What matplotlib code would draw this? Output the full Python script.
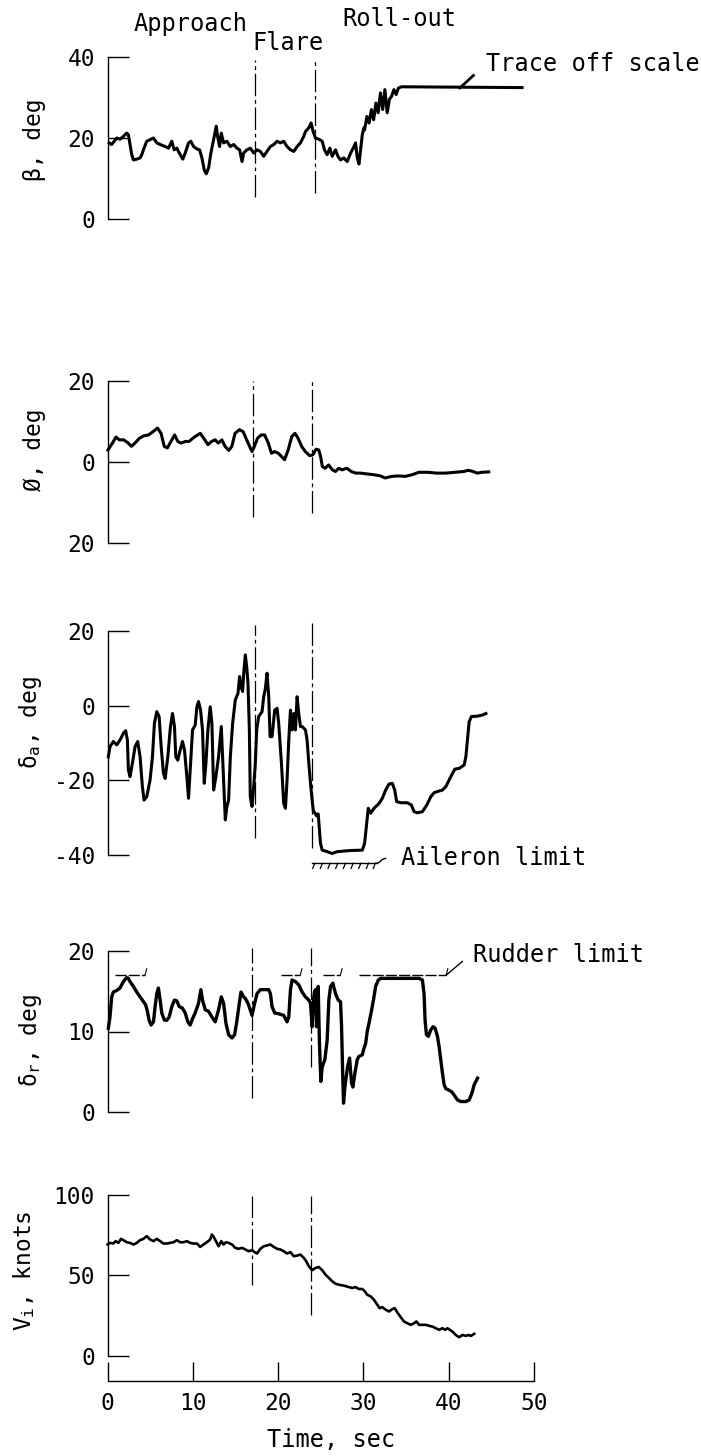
import matplotlib.pyplot as plt

plt.rcParams['font.family'] = 'DejaVu Sans Mono'
plt.rcParams['mathtext.default'] = 'regular'
plt.rcParams['font.size'] = 16.5

# phase boundaries, sec
phase_times = [17.0, 24.0]

# sideslip angle beta, deg
beta_t = [0.2, 0.49, 1.08, 1.47, 1.86, 2.25, 2.45, 2.84, 3.04, 3.43, 3.82, 4.02, 4.21, 4.6, 5.0,
          5.39, 5.78, 6.17, 6.76, 7.15, 7.54, 7.81, 8.13, 8.52, 8.83, 9.11, 9.5, 9.77, 10.09,
          10.48, 10.79, 11.07, 11.34, 11.58, 11.85, 12.12, 12.44, 12.75, 12.91, 13.14, 13.34,
          13.61, 14.0, 14.4, 14.79, 15.18, 15.49, 15.77, 15.96, 16.35, 16.75, 17.14, 17.53,
          17.92, 18.31, 18.7, 19.1, 19.49, 19.88, 20.27, 20.66, 21.05, 21.45, 21.84, 22.23,
          22.62, 23.01, 23.21, 23.6, 23.87, 24.11, 24.38, 24.78, 25.17, 25.44, 25.75, 26.07,
          26.34, 26.73, 27.01, 27.32, 27.71, 28.1, 28.5, 28.89, 29.08, 29.28, 29.48, 29.67,
          29.87, 30.06, 30.14, 30.41, 30.67, 30.94, 31.2, 31.47, 31.73, 32.0, 32.26, 32.52,
          32.79, 33.05, 33.31, 33.58, 33.84, 34.11, 34.48, 48.6]
beta_deg = [18.8, 18.4, 20.0, 19.7, 20.4, 21.2, 20.8, 15.9, 14.6, 14.8, 15.1, 15.9, 17.1, 19.2, 19.6,
            20.0, 18.8, 18.4, 17.9, 17.5, 19.2, 17.1, 17.5, 15.9, 14.8, 16.3, 18.8, 19.2, 17.9,
            17.3, 17.1, 15.1, 12.2, 11.2, 12.6, 16.3, 19.6, 22.9, 20.4, 17.9, 21.2,
            18.8, 19.2, 17.9, 18.4, 17.5, 17.1, 14.2, 16.3, 17.1, 17.5, 16.3, 17.1,
            16.7, 15.5, 16.7, 17.9, 18.4, 19.2, 18.8, 19.2, 17.9, 17.1, 16.7, 17.9,
            18.8, 20.4, 21.6, 22.5, 23.7, 21.6, 20.0, 19.7, 19.2, 17.1, 15.9, 17.5,
            15.5, 17.1, 15.5, 14.6, 15.1, 14.2, 16.3, 17.9, 18.8, 15.1, 13.6, 17.1,
            20.8, 22.5, 22.0, 25.3, 23.7, 27.0, 24.5, 28.6, 26.2, 31.1, 27.0, 31.9,
            26.2, 29.5, 30.3, 31.9, 30.7, 32.3, 32.6, 32.4]

# bank angle phi, deg
phi_t = [0.05, 0.58, 1.0, 1.37, 1.9, 2.43, 2.8, 3.22, 3.75, 4.27, 4.8, 5.33, 5.86, 6.28, 6.65,
         7.02, 7.44, 7.87, 8.24, 8.61, 9.13, 9.56, 10.19, 10.88, 11.41, 11.78, 12.2, 12.62,
         12.99, 13.41, 13.78, 14.21, 14.58, 14.95, 15.47, 15.9, 16.32, 16.74, 16.95, 17.22,
         17.59, 18.01, 18.43, 18.85, 19.22, 19.59, 20.02, 20.39, 20.76, 21.18, 21.6, 21.97,
         22.34, 22.76, 23.19, 23.71, 24.08, 24.45, 24.77, 24.98, 25.19, 25.51, 25.93, 26.36,
         26.73, 27.1, 27.52, 28.05, 28.58, 29.1, 29.63, 30.42, 31.22, 32.01, 32.54, 33.33,
         34.12, 34.91, 35.71, 36.5, 37.56, 38.61, 39.67, 40.73, 41.78, 42.31, 42.84, 43.37,
         43.89, 44.69]
phi_deg = [3.0, 4.7, 6.2, 5.5, 5.5, 4.7, 3.9, 4.7, 5.9, 6.5, 6.7, 7.5, 8.4, 7.1, 3.9,
           3.5, 5.1, 6.7, 5.1, 4.7, 5.1, 5.1, 6.2, 7.1, 5.5, 4.3, 5.1, 5.5,
           4.7, 5.5, 3.9, 2.9, 3.9, 7.1, 8.0, 7.5, 5.5, 3.5, 2.6, 3.9,
           5.9, 6.7, 6.7, 4.7, 2.2, 2.6, 2.2, 1.4, 0.6, 3.0, 6.3, 7.1,
           5.9, 3.9, 2.6, 1.6, 1.8, 3.2, 3.0, 1.4, -1.1, -1.5, -0.7, -1.9,
           -2.3, -1.5, -1.9, -1.5, -2.3, -2.7, -2.7, -2.9, -3.1, -3.4, -3.9, -3.5,
           -3.4, -3.5, -3.1, -2.5, -2.5, -2.7, -2.7, -2.5, -2.3, -2.0, -2.3, -2.7,
           -2.5, -2.4]

# aileron deflection, deg
da_t = [0.1, 0.29, 0.68, 1.08, 1.47, 1.86, 2.13, 2.33, 2.45, 2.64, 2.92, 3.23, 3.54, 3.82, 4.09,
        4.29, 4.6, 4.99, 5.27, 5.5, 5.78, 6.05, 6.29, 6.56, 6.76, 7.07, 7.38, 7.62, 7.85, 8.01,
        8.24, 8.52, 8.79, 9.03, 9.3, 9.5, 9.69, 9.97, 10.28, 10.48, 10.67, 10.91, 11.14, 11.34,
        11.54, 11.77, 12.04, 12.24, 12.44, 12.71, 13.02, 13.34, 13.61, 13.81, 14.0, 14.2, 14.4,
        14.67, 14.98, 15.3, 15.49, 15.65, 15.84, 16.0, 16.16, 16.35, 16.47, 16.63, 16.74, 16.94,
        17.14, 17.33, 17.49, 17.72, 18.12, 18.31, 18.51, 18.7, 18.9, 19.06, 19.29, 19.6, 19.88,
        20.07, 20.39, 20.66, 20.86, 21.05, 21.25, 21.45, 21.64, 21.84, 22.03, 22.23, 22.42,
        22.62, 22.82, 23.21, 23.4, 23.6, 23.8, 23.99, 24.15, 24.3, 24.5, 24.7, 24.97, 25.17,
        25.75, 26.34, 26.93, 28.5, 29.87, 30.14, 30.38, 30.57, 30.85, 31.24, 31.83, 32.22,
        32.61, 33.0, 33.39, 33.67, 33.9, 34.37, 35.15, 35.62, 35.94, 36.33, 36.92, 37.43, 37.9,
        38.29, 38.68, 39.27, 39.66, 40.25, 40.72, 41.23, 41.81, 42.01, 42.2, 42.4, 42.67, 43.38,
        43.97, 44.36]
da_deg = [-13.7, -11.0, -9.6, -10.5, -9.2, -7.4, -6.7, -9.2, -17.2, -19.0, -15.4, -11.0, -9.6, -13.7, -21.7,
          -25.3, -24.4, -19.9, -13.7, -4.7, -1.6, -2.9, -11.0, -18.1, -19.5, -13.7, -5.6, -2.1, -5.6, -13.7,
          -14.6, -11.9, -9.6, -11.9, -19.0, -24.8, -17.2, -6.5, -5.2, -0.3, 1.1, -1.2, -6.5, -20.8,
          -15.4, -6.5, -0.3, -4.7, -22.6, -19.0, -13.7, -5.6, -19.9, -30.6, -27.0, -25.3, -13.7,
          -4.7, 1.5, 3.3, 7.8, 5.1, 3.8, 9.6, 13.6, 9.6, 6.0, -6.5, -24.4, -27.0,
          -21.7, -15.4, -6.5, -2.9, -1.6, 2.4, 4.6, 8.7, 2.4, -8.3, -8.3, -1.2, -0.7,
          -4.7, -15.4, -26.2, -27.5, -19.9, -9.2, -1.2, -6.5, -2.1, -6.5, 2.4, -2.1,
          -5.6, -5.6, -6.5, -9.2, -15.4, -20.8, -25.3, -28.5, -28.6, -29.5, -29.0, -36.9, -38.7,
          -39.1, -39.6, -39.1, -38.8, -38.7, -36.9, -31.5, -27.5, -28.8, -27.5, -26.2, -24.8,
          -22.6, -21.0, -20.8, -22.6, -25.7, -26.0, -26.0, -26.6, -28.4, -28.7, -28.4, -26.6, -24.4,
          -23.3, -23.0, -22.6, -21.7, -19.0, -17.0, -16.8, -15.9, -13.7, -9.2, -4.3, -2.9, -2.8,
          -2.5, -2.1]
aileron_limit = -42.2

# rudder deflection, deg
dr_t = [0.1, 0.29, 0.49, 0.68, 1.08, 1.47, 1.86, 2.25, 2.45, 2.64, 3.04, 3.43, 3.82, 4.21, 4.48,
        4.68, 4.88, 5.11, 5.39, 5.58, 5.78, 5.97, 6.17, 6.36, 6.68, 6.95, 7.23, 7.54, 7.85, 8.13,
        8.4, 8.79, 9.11, 9.42, 9.69, 9.97, 10.28, 10.67, 10.95, 11.14, 11.46, 11.85, 12.24, 12.63,
        13.02, 13.34, 13.61, 13.89, 14.2, 14.59, 14.9, 15.18, 15.45, 15.65, 15.96, 16.16, 16.47,
        16.67, 16.94, 17.25, 17.53, 17.92, 18.51, 18.9, 19.1, 19.29, 19.6, 20.07, 20.66, 21.05,
        21.25, 21.45, 21.64, 22.03, 22.42, 22.82, 23.21, 23.6, 23.8, 23.99, 24.11, 24.23, 24.38,
        24.5, 24.62, 24.7, 24.85, 25.01, 25.17, 25.48, 25.75, 25.95, 26.15, 26.42, 26.73, 27.05,
        27.32, 27.44, 27.56, 27.67, 27.83, 27.99, 28.14, 28.38, 28.61, 28.77, 29.0, 29.28, 29.47,
        29.87, 30.06, 30.26, 30.45, 30.73, 31.04, 31.24, 31.43, 31.75, 32.02, 32.61, 33.78, 35.35,
        36.53, 36.92, 37.11, 37.23, 37.39, 37.62, 37.9, 38.17, 38.41, 38.68, 38.88, 39.07, 39.27,
        39.46, 39.66, 40.05, 40.36, 40.64, 41.03, 41.42, 42.01, 42.4, 42.71, 42.99, 43.38]
dr_deg = [10.4, 11.8, 14.3, 14.9, 15.1, 15.4, 16.2, 16.7, 16.6, 16.2, 15.6, 14.9, 14.3, 13.7, 13.3,
          12.5, 11.4, 10.8, 11.2, 13.1, 14.7, 15.4, 13.9, 12.3, 11.4, 11.4, 11.8, 13.1, 13.9, 13.8,
          13.1, 12.9, 12.3, 11.2, 10.8, 11.6, 12.3, 13.5, 15.2, 13.9, 12.7, 12.5, 11.8, 11.2,
          12.7, 14.3, 13.5, 11.0, 9.6, 9.2, 9.6, 11.4, 13.5, 14.9, 14.3, 14.1, 13.5,
          12.9, 12.0, 13.5, 14.7, 15.2, 15.2, 15.2, 14.7, 13.1, 12.3, 12.2, 12.0, 11.2,
          11.8, 15.2, 16.4, 16.2, 15.8, 14.9, 14.3, 13.9, 13.5, 10.6, 13.5, 14.7, 15.2,
          10.6, 12.7, 15.6, 8.5, 3.8, 5.6, 6.5, 8.9, 13.9, 15.6, 16.0, 14.7, 13.9,
          13.7, 10.6, 5.2, 1.1, 3.1, 4.4, 5.6, 6.7, 3.6, 3.1, 4.8, 6.5, 6.9,
          7.1, 7.9, 8.5, 10.0, 11.4, 13.1, 14.3, 15.6, 16.4, 16.6, 16.6, 16.6, 16.6,
          16.6, 16.4, 14.7, 11.4, 9.6, 9.4, 10.2, 10.6, 10.4, 9.4, 8.1, 6.5, 4.8,
          3.4, 2.9, 2.7, 2.5, 2.1, 1.5, 1.3, 1.3, 1.5, 2.3, 3.4, 4.2]
rudder_limit = 17.0
rudder_limit_spans = [(0.9, 4.4), (20.3, 22.6), (25.3, 27.3), (29.5, 39.7)]

# indicated airspeed, knots
vi_t = [0.0, 0.29, 0.68, 0.96, 1.27, 1.59, 1.86, 2.25, 2.64, 3.04, 3.43, 3.82, 4.21, 4.6, 4.99,
        5.39, 5.78, 6.17, 6.56, 6.95, 7.34, 7.74, 8.13, 8.52, 8.91, 9.3, 9.69, 10.09, 10.48,
        10.87, 11.26, 11.65, 12.04, 12.24, 12.44, 12.71, 13.02, 13.34, 13.61, 13.89, 14.2,
        14.59, 14.98, 15.37, 15.77, 16.16, 16.55, 16.94, 17.25, 17.53, 17.92, 18.31, 18.7,
        19.1, 19.49, 19.88, 20.27, 20.66, 21.05, 21.45, 21.84, 22.23, 22.62, 23.01, 23.29,
        23.6, 23.99, 24.38, 24.77, 25.17, 25.56, 25.95, 26.34, 26.73, 27.12, 27.71, 28.3,
        28.69, 29.08, 29.47, 29.87, 30.18, 30.45, 30.85, 31.24, 31.63, 31.9, 32.22, 32.61,
        33.0, 33.39, 33.67, 33.98, 34.37, 34.76, 35.15, 35.55, 35.94, 36.21, 36.53, 36.92,
        37.31, 37.7, 38.09, 38.48, 38.88, 39.27, 39.58, 39.85, 40.13, 40.44, 40.83, 41.23,
        41.62, 42.01, 42.32, 42.6, 42.99]
vi_knots = [69.2, 70.2, 69.8, 71.3, 70.2, 72.7, 71.9, 70.6, 70.2, 69.2, 70.2, 71.9, 72.7, 74.4, 72.3,
            71.3, 72.7, 71.3, 69.8, 69.8, 70.2, 70.6, 71.9, 70.6, 70.6, 71.3, 70.2, 69.8, 69.8,
            67.7, 69.2, 70.6, 72.3, 75.4, 74.0, 71.3, 68.1, 71.3, 69.2, 70.6, 70.2,
            69.2, 67.1, 66.5, 67.1, 66.1, 65.0, 65.6, 64.4, 63.6, 66.5, 68.1, 68.6,
            69.2, 67.7, 66.5, 66.1, 65.0, 63.6, 64.4, 61.9, 62.3, 62.9, 60.9, 58.8,
            55.7, 53.2, 54.6, 55.2, 53.2, 50.4, 48.4, 46.3, 44.8, 44.2, 43.6, 42.7,
            42.1, 42.7, 41.5, 41.5, 40.0, 37.9, 36.9, 34.8, 31.7, 29.6, 30.2, 28.6,
            27.5, 29.0, 29.6, 26.9, 24.0, 21.3, 20.2, 19.2, 20.2, 21.3, 19.2, 19.2,
            19.2, 18.6, 18.1, 17.1, 16.1, 17.1, 16.1, 17.1, 16.1, 15.0, 12.9, 11.5,
            12.9, 12.3, 12.9, 12.3, 13.6]

W, H = 701.0, 1456.0
X0, X50 = 107.5, 534.0

fig = plt.figure(figsize=(7.01, 14.56), dpi=100)


def panel(top_px, bottom_px, ylim, yticks, yticklabels):
    ax = fig.add_axes([X0 / W, 1 - bottom_px / H, (X50 - X0) / W, (bottom_px - top_px) / H])
    ax.set_xlim(0, 50)
    ax.set_ylim(*ylim)
    for s in ['top', 'right', 'bottom']:
        ax.spines[s].set_visible(False)
    ax.spines['left'].set_linewidth(1.0)
    ax.set_yticks(yticks)
    ax.set_yticklabels(yticklabels)
    ax.tick_params(axis='y', direction='in', length=15, width=1.0, pad=9, labelsize=16.5)
    ax.tick_params(axis='x', bottom=False, labelbottom=False)
    return ax


def phase_lines(ax, times, spans):
    for t, (y0, y1) in zip(times, spans):
        ax.plot([t, t], [y0, y1], color='k', lw=0.9, dashes=(18, 3, 3, 3), clip_on=False)


def ylab(ax, text, x, y):
    ax.text(x, y, text, transform=ax.transAxes, rotation=90, ha='center', va='center',
            fontsize=16.5)


# beta
ax1 = panel(56.7, 219.3, (0, 40), [0, 20, 40], ['0', '20', '40'])
ax1.plot(beta_t, beta_deg, color='k', lw=2.2, clip_on=False)
phase_lines(ax1, [17.3, 24.3], [(5.6, 39.3), (6.5, 39.3)])
ax1.plot([41.3, 42.9], [32.3, 35.4], color='k', lw=2.0)
ax1.text(9.7, 48.0, 'Approach', ha='center', va='center', fontsize=17, clip_on=False)
ax1.text(21.2, 43.3, 'Flare', ha='center', va='center', fontsize=17, clip_on=False)
ax1.text(34.2, 49.2, 'Roll-out', ha='center', va='center', fontsize=17, clip_on=False)
ax1.text(44.4, 38.3, 'Trace off scale', ha='left', va='center', fontsize=17, clip_on=False)
ylab(ax1, 'β, deg', -0.17, 0.49)

# phi
ax2 = panel(381.0, 543.3, (-20, 20), [-20, 0, 20], ['20', '0', '20'])
ax2.plot(phi_t, phi_deg, color='k', lw=2.2, clip_on=False)
phase_lines(ax2, [17.1, 24.0], [(-13.4, 20.0), (-12.5, 20.3)])
ylab(ax2, 'Ø, deg', -0.17, 0.575)

# aileron
ax3 = panel(631.0, 855.0, (-40, 20), [-40, -20, 0, 20], ['-40', '-20', '0', '20'])
ax3.plot(da_t, da_deg, color='k', lw=2.2, clip_on=False)
phase_lines(ax3, [17.3, 24.0], [(-35.5, 21.6), (-38.1, 22.1)])
ax3.plot([24.0, 31.6], [aileron_limit, aileron_limit], color='k', lw=1.0, clip_on=False)
for h in [24.3, 25.2, 26.1, 27.0, 27.9, 28.8, 29.7, 30.6, 31.4]:
    ax3.plot([h, h - 0.25], [aileron_limit, aileron_limit - 1.4], color='k', lw=0.9,
             clip_on=False)
ax3.plot([31.6, 31.9, 32.2, 32.6], [aileron_limit, -41.9, -41.2, -40.9], color='k', lw=1.0,
         clip_on=False)
ax3.text(34.4, -40.9, 'Aileron limit', ha='left', va='center', fontsize=17, clip_on=False)
ylab(ax3, r'δ$_{a}$, deg', -0.18, 0.59)

# rudder
ax4 = panel(951.0, 1112.0, (0, 20), [0, 10, 20], ['0', '10', '20'])
ax4.plot(dr_t, dr_deg, color='k', lw=2.4, clip_on=False)
phase_lines(ax4, [16.9, 23.9], [(1.7, 20.4), (5.6, 20.4)])
for a, b in rudder_limit_spans:
    ax4.plot([a, b], [rudder_limit, rudder_limit], color='k', lw=1.0, dashes=(8, 1.5),
             clip_on=False)
    ax4.plot([b, b + 0.2], [rudder_limit, rudder_limit + 0.8], color='k', lw=0.8)
ax4.plot([39.7, 41.6], [rudder_limit, 18.7], color='k', lw=1.0, clip_on=False)
ax4.text(42.8, 19.5, 'Rudder limit', ha='left', va='center', fontsize=17, clip_on=False)
ylab(ax4, r'δ$_{r}$, deg', -0.18, 0.447)

# airspeed + time axis
ax5 = panel(1195.0, 1355.7, (0, 100), [0, 50, 100], ['0', '50', '100'])
ax5.plot(vi_t, vi_knots, color='k', lw=1.9, clip_on=False)
phase_lines(ax5, [16.9, 23.9], [(44.0, 99.5), (25.3, 99.5)])
ax5.spines['bottom'].set_visible(True)
ax5.spines['bottom'].set_position(('outward', 25 * 72 / 100))
ax5.spines['bottom'].set_linewidth(1.0)
ax5.set_xticks([0, 10, 20, 30, 40, 50])
ax5.tick_params(axis='x', bottom=True, labelbottom=True, direction='in', length=13.5,
                width=1.0, pad=8, labelsize=16.5)
ylab(ax5, r'V$_{i}$, knots', -0.195, 0.53)
fig.text(331 / W, 1 - 1440 / H, 'Time, sec', ha='center', va='center', fontsize=17)

fig.savefig('out.png', dpi=100)
